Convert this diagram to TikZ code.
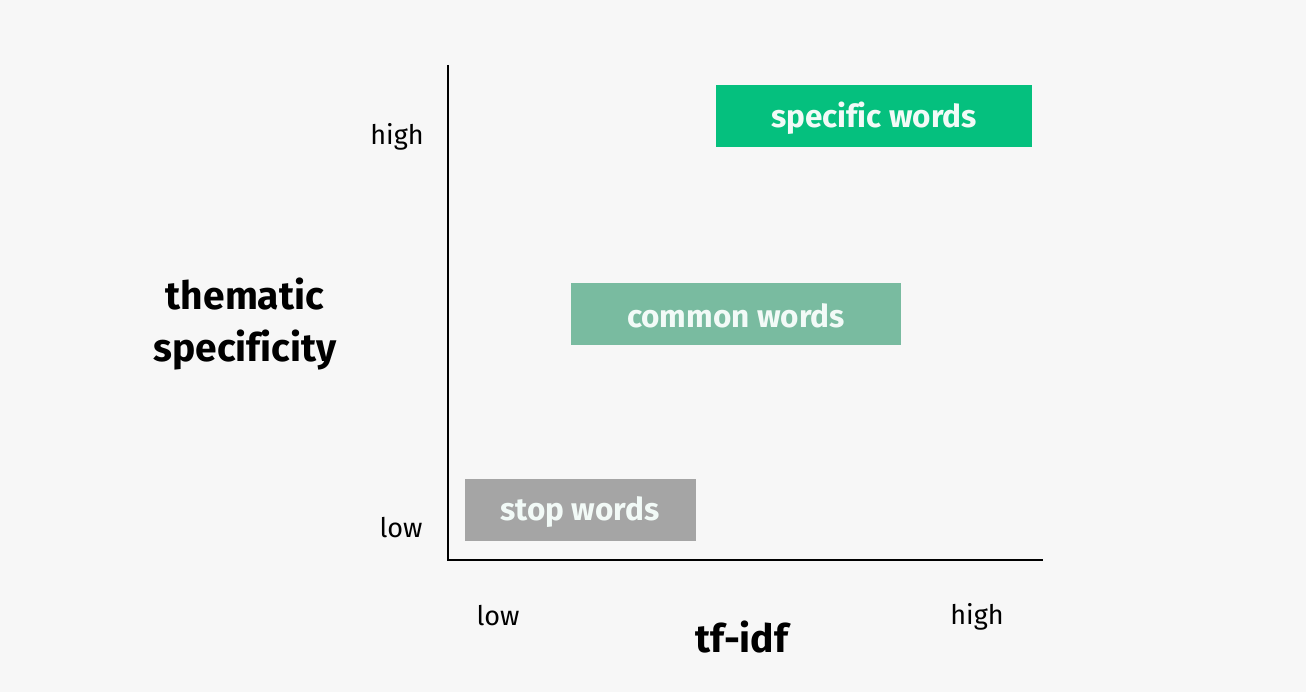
\documentclass[tikz,border=0pt]{standalone}
\usepackage{fontspec}
\setmainfont[Ligatures=NoCommon]{Fira Sans}
\definecolor{bg}{HTML}{F7F7F7}
\definecolor{specgreen}{HTML}{05C07E}
\definecolor{commongreen}{HTML}{79BBA0}
\definecolor{stopgray}{HTML}{A5A5A5}
\definecolor{boxtext}{HTML}{F2FAF7}
\begin{document}
\begin{tikzpicture}[x=1pt,y=-1pt,
  wordbox/.style={inner sep=0pt, text=boxtext, font=\fontsize{31.5}{36}\selectfont\bfseries},
  ticklabel/.style={font=\fontsize{27}{32}\selectfont, text=black},
  axistitle/.style={font=\fontsize{39}{52}\selectfont\bfseries, text=black, align=center},
  axisline/.style={line width=2.2pt, black}]
\fill[bg] (0,0) rectangle (1306,692);
\useasboundingbox (0,0) rectangle (1306,692);
% boxes
\fill[specgreen] (716,85) rectangle (1032,147);
\node[wordbox] (spec) at (874,118) {specific words};
\fill[commongreen] (571,283) rectangle (901,345);
\node[wordbox] (common) at (736,316) {common words};
\fill[stopgray] (465,479) rectangle (696,541);
\node[wordbox] (stop) at (580,512) {stop words};
% axes
\coordinate (top) at (448,65);
\coordinate (origin) at (448,560);
\coordinate (right) at (1043,560);
\draw[axisline] (top) -- (origin) -- (right);
% labels
\node[ticklabel] (yhigh) at (397,137) {high};
\node[ticklabel] (ylow) at (401,528) {low};
\node[ticklabel] (xlow) at (498,616) {low};
\node[ticklabel] (xhigh) at (977,617) {high};
\node[axistitle] (xtitle) at (742,637) {tf-idf};
\node[axistitle] (ytitle) at (245,324) {thematic\\specificity};
\end{tikzpicture}
\end{document}
